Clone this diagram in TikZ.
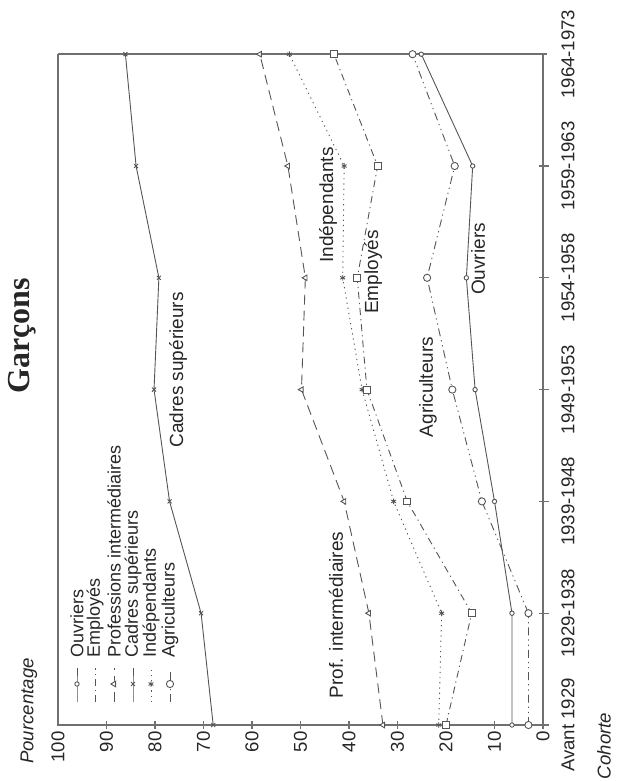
\documentclass[tikz,border=0pt]{standalone}
\usepackage{fontspec}
\setmainfont{Liberation Sans}
\newfontfamily\titlefont{Liberation Serif}
\usetikzlibrary{plotmarks}
\definecolor{linegray}{HTML}{555555}
\definecolor{axisgray}{HTML}{707070}

\begin{document}
\begin{tikzpicture}[x=0.5pt, y=-0.5pt,
  every node/.style={inner sep=0pt, text=black!85},
  txt/.style={rotate=90, font=\fontsize{9.5}{11}\selectfont},
  ticklbl/.style={rotate=90, font=\fontsize{9.3}{11}\selectfont},
  leglbl/.style={rotate=90, anchor=west, font=\fontsize{9}{11}\selectfont},
  axisline/.style={draw=axisgray, line width=0.55pt},
  serie/.style={draw=linegray, line width=0.45pt},
  markbox/.style={solid, fill=white, draw=linegray, line width=0.45pt},
  ouvr/.style={serie, mark=*, mark size=1.1pt, mark options={markbox}},
  empl/.style={serie, dash pattern=on 3.5pt off 2pt on 0.6pt off 2pt, mark=square*, mark size=1.7pt, mark options={markbox}},
  profi/.style={serie, dash pattern=on 5pt off 3pt, mark=triangle*, mark size=1.6pt, mark options={markbox, rotate=90}},
  cadr/.style={serie, mark=x, mark size=1.4pt, mark options={markbox}},
  indep/.style={serie, dash pattern=on 0.6pt off 2pt, mark=asterisk, mark size=1.4pt, mark options={markbox}},
  agri/.style={serie, dash pattern=on 4pt off 2pt on 0.6pt off 2pt on 0.6pt off 2pt, mark=*, mark size=1.8pt, mark options={markbox}}
]
\useasboundingbox (0,0) rectangle (617,781);

% cadre et graduations
\draw[axisline] (58,54) -- (547,54);
\draw[axisline] (58,54) -- (58,725) -- (549,725);
\draw[axisline] (543,54) -- (543,729);
\foreach \p in {10,20,...,90} \draw[axisline] ({543-4.85*\p},721) -- ++(0,8);
\foreach \i in {1,...,5} \draw[axisline] (539,{725-111.8*\i}) -- ++(10,0);

% courbes (cohorte, pourcentage)
\begin{scope}[shift={(543,725)}, x={(0pt,55.9pt)}, y={(-2.425pt,0pt)}]
\draw[cadr] plot coordinates {(0,68.0) (1,70.5) (2,77.0) (3,80.2) (4,79.2) (5,83.9) (6,86.1)};
\draw[profi] plot coordinates {(0,33.0) (1,35.9) (2,41.0) (3,49.8) (4,49.0) (5,52.6) (6,58.4)};
\draw[indep] plot coordinates {(0,21.5) (1,20.9) (2,30.8) (3,37.3) (4,41.3) (5,41.0) (6,52.3)};
\draw[empl] plot coordinates {(0,20.0) (1,14.7) (2,28.0) (3,36.3) (4,38.3) (5,34.1) (6,43.1)};
\draw[agri] plot coordinates {(0,3.0) (1,3.0) (2,12.6) (3,18.7) (4,23.9) (5,18.2) (6,26.9)};
\draw[ouvr] plot coordinates {(0,6.4) (1,6.4) (2,10.0) (3,14.0) (4,15.8) (5,14.5) (6,25.1)};
\end{scope}

% legende
\draw[ouvr, mark indices={2}] plot coordinates {(77,702) (77,684) (77,668)};
\node[leglbl] (lgouvr) at (77,658) {Ouvriers};
\draw[empl, mark=none] (95,702) -- (95,668);
\node[leglbl] (lgempl) at (95,658) {Employés};
\draw[profi, mark indices={2}] plot coordinates {(114,702) (114,684) (114,668)};
\node[leglbl] (lgprofi) at (114,658) {Professions intermédiaires};
\draw[cadr, mark indices={2}] plot coordinates {(133,702) (133,684) (133,668)};
\node[leglbl] (lgcadr) at (133,658) {Cadres supérieurs};
\draw[indep, mark indices={2}] plot coordinates {(151,702) (151,684) (151,668)};
\node[leglbl] (lgindep) at (151,658) {Indépendants};
\draw[agri, mark indices={2}] plot coordinates {(170,702) (170,684) (170,668)};
\node[leglbl] (lgagri) at (170,658) {Agriculteurs};

% etiquettes des courbes
\node[txt] (lbcadr) at (178,370) {Cadres supérieurs};
\node[txt] (lbprofi) at (336,615) {Prof. intermédiaires};
\node[txt] (lbindep) at (328,205) {Indépendants};
\node[txt] (lbempl) at (373,272) {Employés};
\node[txt] (lbagri) at (428,387) {Agriculteurs};
\node[txt] (lbouvr) at (478,259) {Ouvriers};

% axes
\foreach \p in {0,10,...,100} \node[ticklbl, anchor=east] (pct\p) at ({543-4.85*\p},731) {\p};
\foreach \lab [count=\i from 0] in {Avant 1929,1929-1938,1939-1948,1949-1953,1954-1958,1959-1963,1964-1973}
  \node[ticklbl] (coh\i) at (568,{725-111.8*\i}) {\lab};
\node[rotate=90, font=\itshape\fontsize{9.3}{11}\selectfont] (pourc) at (29,711) {Pourcentage};
\node[rotate=90, font=\itshape\fontsize{9.3}{11}\selectfont] (coho) at (604,746) {Cohorte};
\node[rotate=90, font={\titlefont\bfseries\fontsize{16}{18}\selectfont}] (titre) at (22,336) {Garçons};
\end{tikzpicture}
\end{document}
